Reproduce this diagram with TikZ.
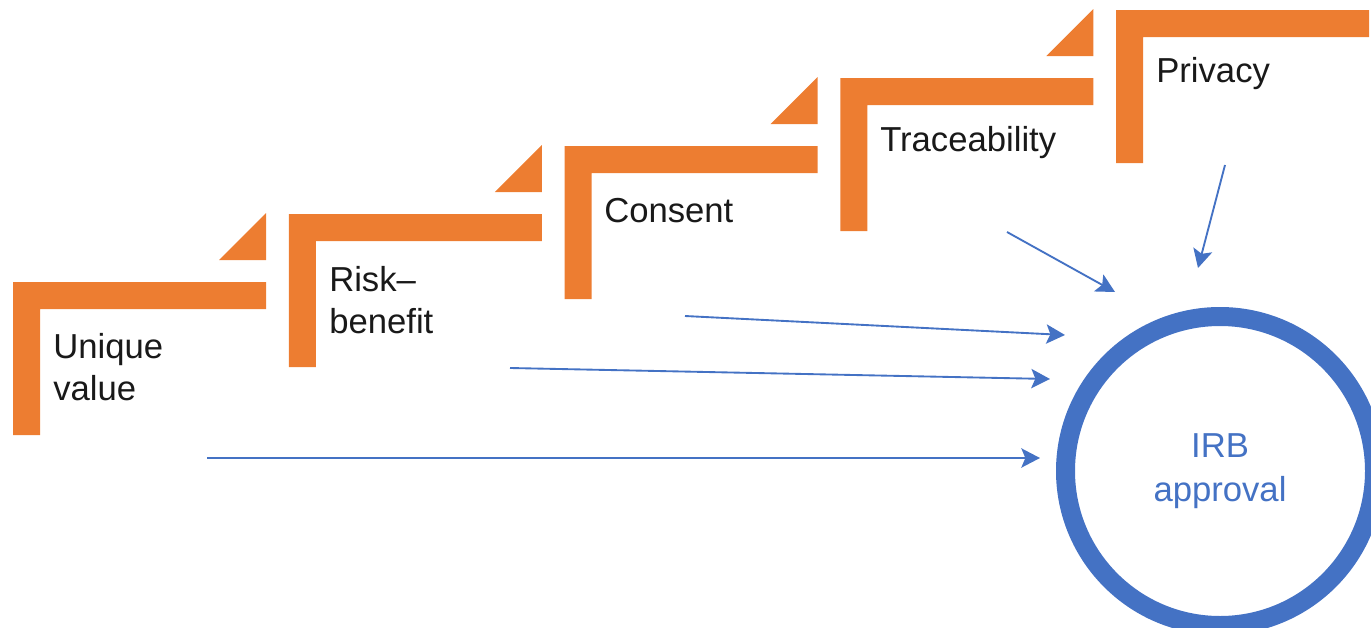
\documentclass[tikz,border=0pt]{standalone}
\usepackage{fontspec}
\setmainfont{Liberation Sans}
\usetikzlibrary{arrows.meta}
\definecolor{orangeA}{HTML}{ED7D31}
\definecolor{blueA}{HTML}{4472C4}
\tikzset{
  stepbar/.style={fill=orangeA, draw=none},
  lbl/.style={font=\fontsize{26}{31}\selectfont, anchor=west, inner sep=0pt, align=left, text=black!90},
  flow/.style={draw=blueA, line width=1.4pt, -{Stealth[length=14pt,width=14.5pt,inset=3pt]}},
  ring/.style={circle, draw=blueA, line width=14.25pt, minimum size=231.75pt, inner sep=0pt,
     align=center, text=blueA, font=\fontsize{26}{33}\selectfont}
}
\begin{document}
\begin{tikzpicture}[x=0.75pt,y=-0.75pt]
\useasboundingbox (0,0) rectangle (1371,628);
\clip (0,0) rectangle (1371,628);
% steps
\foreach \i in {0,...,4}{
  \pgfmathsetmacro\L{13+275.75*\i}
  \pgfmathsetmacro\T{282-68*\i}
  \fill[stepbar] (\L,\T) -- (\L+253,\T) -- (\L+253,\T+27) -- (\L+27,\T+27) -- (\L+27,\T+153) -- (\L,\T+153) -- cycle;
}
\foreach \i in {0,...,3}{
  \pgfmathsetmacro\L{13+275.75*\i}
  \pgfmathsetmacro\T{282-68*\i}
  \fill[stepbar] (\L+206,\T-22) -- (\L+253,\T-22) -- (\L+253,\T-69) -- cycle;
}
% labels
\node[lbl] (uv) at (53,367) {Unique\\value};
\node[lbl] (rb) at (329,300) {Risk–\\benefit};
\node[lbl] (cs) at (604,211) {Consent};
\node[lbl] (tr) at (880,143) {Traceability};
\node[lbl] (pr) at (1156,74) {Privacy};
% circle
\node[ring] (irb) at (1220,471) {IRB\\approval};
% arrow coordinates
\coordinate (s1) at (207,458);  \coordinate (e1) at (1040,458);
\coordinate (s2) at (510,368);  \coordinate (e2) at (1050,379);
\coordinate (s3) at (685,316);  \coordinate (e3) at (1065,335);
\coordinate (s4) at (1007,232); \coordinate (e4) at (1115,292);
\coordinate (s5) at (1225,165); \coordinate (e5) at (1198,268);
\draw[flow] (s1) -- (e1);
\draw[flow] (s2) -- (e2);
\draw[flow] (s3) -- (e3);
\draw[flow] (s4) -- (e4);
\draw[flow] (s5) -- (e5);
\end{tikzpicture}
\end{document}
